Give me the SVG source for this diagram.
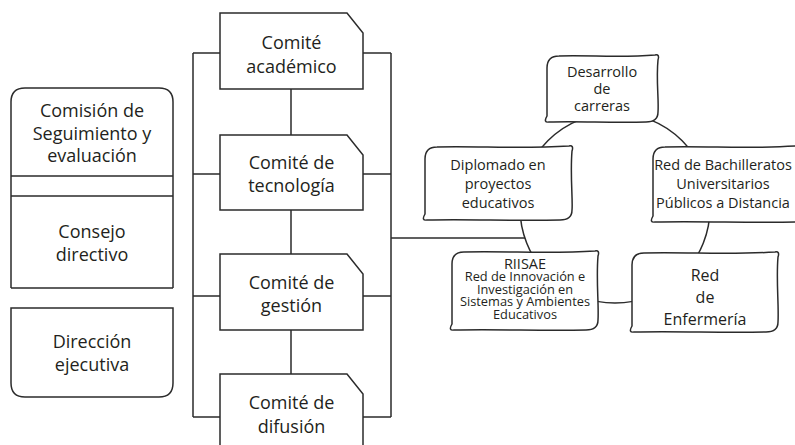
<svg xmlns="http://www.w3.org/2000/svg" width="795" height="445" viewBox="0 0 795 445">
<style>
.s{fill:none;stroke:#2b2b2b;stroke-width:1.5}
.b{fill:#fff;stroke:#2b2b2b;stroke-width:1.5}
.t{font-family:"Open Sans","Noto Sans",sans-serif;fill:#231f20;text-anchor:middle}
.l{font-size:18px}
.m{font-size:18px}
.r{font-size:14.5px}
.e{font-size:16px}
.q{font-size:12.8px}
</style>
<rect width="795" height="445" fill="#fff"/>
<g id="connectors">
<path class="s" d="M193,53 V417 M193,53 H220 M193,174 H220 M193,296 H220 M193,417 H220"/>
<path class="s" d="M391,53 V417 M363,53 H391 M363,174 H391 M363,296 H391 M363,417 H391"/>
<path class="s" d="M291,89 V135 M291,210 V254 M291,330 V374"/>
<path class="s" d="M391,238 H525"/>
<circle class="s" cx="615" cy="208" r="95"/>
</g>
<g id="left-panel">
<path class="s" d="M11,288 V102 Q11,88 25,88 H159 Q173,88 173,102 V288"/>
<path class="s" d="M11,176 H173 M11,196 H173 M11,288 H173"/>
<path class="s" d="M11,308 H173 V383 Q173,397 159,397 H25 Q11,397 11,383 Z"/>
</g>
<g id="comision"><text class="t l" x="92" y="117">Comisión de</text><text class="t l" x="92" y="140">Seguimiento y</text><text class="t l" x="92" y="162">evaluación</text></g>
<g id="consejo"><text class="t l" x="92" y="238">Consejo</text><text class="t l" x="92" y="261">directivo</text></g>
<g id="direccion"><text class="t l" x="92" y="348">Dirección</text><text class="t l" x="92" y="371">ejecutiva</text></g>
<g id="academico"><path class="b" d="M220,13 H347 L363,33 V89 H220 Z"/><text class="t m" x="291.5" y="49">Comité</text><text class="t m" x="291.5" y="73">académico</text></g>
<g id="tecnologia"><path class="b" d="M220,135 H347 L363,155 V210 H220 Z"/><text class="t m" x="291.5" y="169">Comité de</text><text class="t m" x="291.5" y="192">tecnología</text></g>
<g id="gestion"><path class="b" d="M220,254 H347 L363,274 V330 H220 Z"/><text class="t m" x="291.5" y="289">Comité de</text><text class="t m" x="291.5" y="312">gestión</text></g>
<g id="difusion"><path class="b" d="M220,374 H347 L363,394 V450 H220 Z"/><text class="t m" x="291.5" y="409">Comité de</text><text class="t m" x="291.5" y="433">difusión</text></g>
<g id="desarrollo"><path class="b" d="M547,116 V68 Q547,56 559,56 C590,55 620,58 655,55 Q660,54 658,60 C656,80 659,100 658,112 Q658,122 646,122 C610,123 580,121 549,122 Q543,123 547,116 Z"/><text class="t r" x="602" y="77">Desarrollo</text><text class="t r" x="602" y="94">de</text><text class="t r" x="602" y="111">carreras</text></g>
<g id="diplomado"><path class="b" d="M425,214 V159 Q425,147 437,147 C480,146 520,149 569,146 Q574,145 572,151 C570,175 573,200 572,210 Q572,220 560,220 C510,221 470,219 427,220 Q421,221 425,214 Z"/><text class="t r" x="498" y="170">Diplomado en</text><text class="t r" x="498" y="189">proyectos</text><text class="t r" x="498" y="208">educativos</text></g>
<g id="bachilleratos"><path class="b" d="M653,216 V159 Q653,147 665,147 C710,146 750,149 797,146 L797,222 C750,223 700,221 655,222 Q649,223 653,216 Z"/><text class="t r" x="723" y="170">Red de Bachilleratos</text><text class="t r" x="723" y="189">Universitarios</text><text class="t r" x="723" y="208">Públicos a Distancia</text></g>
<g id="riisae"><path class="b" d="M452,324 V264 Q452,252 464,252 C510,251 550,254 595,251 Q600,250 598,256 C596,280 599,305 598,320 Q598,330 586,330 C540,331 500,329 454,330 Q448,331 452,324 Z"/><text class="t r" x="525" y="269">RIISAE</text><text class="t q" x="525" y="281">Red de Innovación e</text><text class="t q" x="525" y="293.5">Investigación en</text><text class="t q" x="525" y="306">Sistemas y Ambientes</text><text class="t q" x="525" y="318.5">Educativos</text></g>
<g id="enfermeria"><path class="b" d="M632,326 V265 Q632,253 644,253 C690,252 730,255 775,252 Q780,251 778,257 C776,280 779,305 778,322 Q778,332 766,332 C720,333 680,331 634,332 Q628,333 632,326 Z"/><text class="t e" x="705" y="281">Red</text><text class="t e" x="705" y="303">de</text><text class="t e" x="705" y="325">Enfermería</text></g>
</svg>
